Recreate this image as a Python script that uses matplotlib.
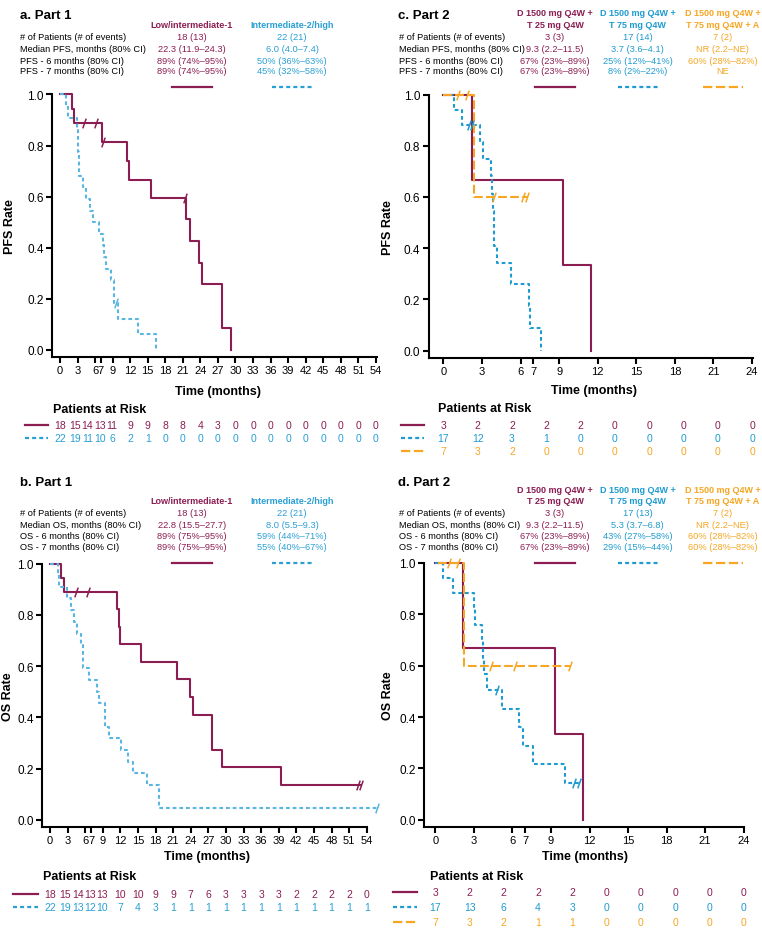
import numpy as np
import matplotlib
matplotlib.use("Agg")
import matplotlib.pyplot as plt
from matplotlib.lines import Line2D
from matplotlib.path import Path
from matplotlib.ticker import FormatStrFormatter
from matplotlib.transforms import blended_transform_factory

W, H = 762, 929
MAROON = "#8b1d52"
BLUE1_TXT, BLUE1_LN = "#2a9fd4", "#5ab5e0"
BLUE2 = "#1e9bd0"
ORANGE = "#f6a623"

plt.rcParams.update({
    "font.family": ["Liberation Sans", "DejaVu Sans"],
    "axes.spines.top": False, "axes.spines.right": False,
    "axes.linewidth": 1.5, "xtick.major.width": 1.5, "ytick.major.width": 1.5,
    "xtick.major.size": 4, "ytick.major.size": 4,
    "xtick.labelsize": 8, "ytick.labelsize": 8.5,
})

# ---------------- data ----------------
# a. PFS part 1
pfs1_low_t = [0, 2.0, 2.4, 7.1, 11.45, 11.85, 15.55, 21.5, 22.3, 23.8, 24.3, 27.7, 29.3]
pfs1_low_s = [1.0, 0.944, 0.889, 0.815, 0.741, 0.667, 0.593, 0.511, 0.426, 0.341, 0.256, 0.085, 0.0]
pfs1_low_cx = [4.1, 6.1, 7.3, 21.4]
pfs1_low_cy = [0.889, 0.889, 0.815, 0.593]
pfs1_high_t = [0, 1.1, 1.4, 2.9, 3.0, 3.1, 3.2, 3.3, 4.0, 4.4, 5.1, 5.6, 6.7, 7.4, 7.6, 7.8,
               8.8, 9.2, 10.0, 13.3, 16.4]
pfs1_high_s = [1.0, 0.955, 0.909, 0.864, 0.818, 0.773, 0.727, 0.682, 0.636, 0.591, 0.545, 0.5,
               0.455, 0.409, 0.364, 0.318, 0.273, 0.182, 0.121, 0.061, 0.0]
pfs1_high_cx = [9.5]
pfs1_high_cy = [0.182]

# c. PFS part 2
pfs2_t25_t = [0, 2.23, 9.3, 11.5]
pfs2_t25_s = [1.0, 0.667, 0.333, 0.0]
pfs2_t75_t = [0, 0.8, 1.45, 2.85, 3.1, 3.7, 3.8, 3.85, 3.9, 3.95, 4.15, 5.27, 6.64, 6.74, 7.6]
pfs2_t75_s = [1.0, 0.941, 0.882, 0.816, 0.75, 0.68, 0.61, 0.545, 0.476, 0.408, 0.343, 0.261,
              0.174, 0.087, 0.0]
pfs2_t75_cx = [2.0, 2.2]
pfs2_t75_cy = [0.882, 0.882]
pfs2_t75a_t = [0, 2.35, 6.6]
pfs2_t75a_s = [1.0, 0.6, 0.6]
pfs2_t75a_cx = [1.1, 1.85, 3.97, 6.2, 6.5]
pfs2_t75a_cy = [1.0, 1.0, 0.6, 0.6, 0.6]

# b. OS part 1
os1_low_t = [0, 1.9, 2.4, 11.4, 11.8, 11.9, 15.6, 21.6, 23.8, 24.3, 27.7, 29.3, 39.4, 53.0]
os1_low_s = [1.0, 0.944, 0.889, 0.822, 0.753, 0.685, 0.617, 0.548, 0.479, 0.411, 0.274, 0.205,
             0.137, 0.137]
os1_low_cx = [4.4, 6.4, 52.6, 53.1]
os1_low_cy = [0.889, 0.889, 0.137, 0.137]
os1_high_t = [0, 1.4, 1.6, 2.85, 3.5, 4.1, 4.55, 5.3, 5.7, 6.7, 8.0, 8.4, 9.3, 10.1, 12.1,
              13.3, 14.1, 16.5, 18.6, 55.7]
os1_high_s = [1.0, 0.955, 0.909, 0.864, 0.818, 0.773, 0.727, 0.682, 0.591, 0.545, 0.5, 0.455,
              0.364, 0.318, 0.273, 0.227, 0.182, 0.136, 0.045, 0.045]
os1_high_cx = [55.7]
os1_high_cy = [0.045]

# d. OS part 2
os2_t25_t = [0, 2.18, 9.3, 11.5]
os2_t25_s = [1.0, 0.667, 0.333, 0.0]
os2_t75_t = [0, 0.6, 1.36, 3.0, 3.1, 3.64, 3.7, 3.8, 4.03, 5.17, 6.55, 6.8, 7.64, 10.1, 11.2]
os2_t75_s = [1.0, 0.941, 0.882, 0.82, 0.758, 0.694, 0.631, 0.568, 0.505, 0.433, 0.361, 0.289,
             0.217, 0.145, 0.145]
os2_t75_cx = [4.8, 10.8, 11.15]
os2_t75_cy = [0.505, 0.145, 0.145]
os2_t75a_t = [0.2, 2.26, 10.5]
os2_t75a_s = [1.0, 0.6, 0.6]
os2_t75a_cx = [1.1, 1.75, 4.3, 6.2, 10.5]
os2_t75a_cy = [1.0, 1.0, 0.6, 0.6, 0.6]

# tables
part1_groups = ["Low/intermediate-1", "Intermediate-2/high"]
part2_groups = [["D 1500 mg Q4W +", "T 25 mg Q4W"], ["D 1500 mg Q4W +", "T 75 mg Q4W"],
                ["D 1500 mg Q4W +", "T 75 mg Q4W + A"]]
pfs_rows = ["# of Patients (# of events)", "Median PFS, months (80% CI)",
            "PFS - 6 months (80% CI)", "PFS - 7 months (80% CI)"]
os_rows = ["# of Patients (# of events)", "Median OS, months (80% CI)",
           "OS - 6 months (80% CI)", "OS - 7 months (80% CI)"]
pfs1_vals = [["18 (13)", "22.3 (11.9–24.3)", "89% (74%–95%)", "89% (74%–95%)"],
             ["22 (21)", "6.0 (4.0–7.4)", "50% (36%–63%)", "45% (32%–58%)"]]
pfs2_vals = [["3 (3)", "9.3 (2.2–11.5)", "67% (23%–89%)", "67% (23%–89%)"],
             ["17 (14)", "3.7 (3.6–4.1)", "25% (12%–41%)", "8% (2%–22%)"],
             ["7 (2)", "NR (2.2–NE)", "60% (28%–82%)", "NE"]]
os1_vals = [["18 (13)", "22.8 (15.5–27.7)", "89% (75%–95%)", "89% (75%–95%)"],
            ["22 (21)", "8.0 (5.5–9.3)", "59% (44%–71%)", "55% (40%–67%)"]]
os2_vals = [["3 (3)", "9.3 (2.2–11.5)", "67% (23%–89%)", "67% (23%–89%)"],
            ["17 (13)", "5.3 (3.7–6.8)", "43% (27%–58%)", "29% (15%–44%)"],
            ["7 (2)", "NR (2.2–NE)", "60% (28%–82%)", "60% (28%–82%)"]]

# patients at risk
ticks1 = [0, 3, 6, 7, 9] + list(range(12, 55, 3))
ticks2 = [0, 3, 6, 7, 9, 12, 15, 18, 21, 24]
risk1_x = [0, 2.5, 4.7, 6.9, 8.9] + list(range(12, 55, 3))
risk2_x = list(np.linspace(0, 24, 10))
pfs1_risk = [[18, 15, 14, 13, 11, 9, 9, 8, 8, 4, 3, 0, 0, 0, 0, 0, 0, 0, 0, 0],
             [22, 19, 11, 10, 6, 2, 1, 0, 0, 0, 0, 0, 0, 0, 0, 0, 0, 0, 0, 0]]
pfs2_risk = [[3, 2, 2, 2, 2, 0, 0, 0, 0, 0],
             [17, 12, 3, 1, 0, 0, 0, 0, 0, 0],
             [7, 3, 2, 0, 0, 0, 0, 0, 0, 0]]
os1_risk = [[18, 15, 14, 13, 13, 10, 10, 9, 9, 7, 6, 3, 3, 3, 3, 2, 2, 2, 2, 0],
            [22, 19, 13, 12, 10, 7, 4, 3, 1, 1, 1, 1, 1, 1, 1, 1, 1, 1, 1, 1]]
os2_risk = [[3, 2, 2, 2, 2, 0, 0, 0, 0, 0],
            [17, 13, 6, 4, 3, 0, 0, 0, 0, 0],
            [7, 3, 2, 1, 1, 0, 0, 0, 0, 0]]

# ---------------- drawing ----------------
fig = plt.figure(figsize=(W / 100, H / 100), dpi=100)
CENSOR = Path([(-0.35, -1), (0.35, 1)], [Path.MOVETO, Path.LINETO])

DASH1 = (0, (1.8, 1.4))
DASH_O = (0, (4.2, 1.6))


def fx(x):
    return x / W


def fy(y):
    return 1 - y / H


def ftext(x, y, s, **kw):
    kw.setdefault("va", "center")
    fig.text(fx(x), fy(y), s, **kw)


def fline(x0, x1, y, color, ls):
    fig.add_artist(Line2D([fx(x0), fx(x1)], [fy(y), fy(y)], color=color, lw=1.6, ls=ls))


def make_axes(l, t, r, b, xlim, xticks, ylabel, ylab_x):
    ax = fig.add_axes([fx(l), fy(b), fx(r - l), (b - t) / H])
    ax.set_xlim(*xlim)
    ax.set_ylim(-0.028, 1.0)
    ax.set_xticks(xticks)
    ax.set_yticks([0, 0.2, 0.4, 0.6, 0.8, 1.0])
    ax.yaxis.set_major_formatter(FormatStrFormatter("%.1f"))
    ax.tick_params(pad=2)
    ax.patch.set_alpha(0)
    ftext(ylab_x, (t + b) / 2, ylabel, rotation=90, ha="center", fontsize=9, fontweight="bold")
    return ax


def km(ax, t, s, cx, cy, color, ls, lw=1.5):
    ax.step(t, s, where="post", color=color, lw=lw, ls=ls, clip_on=False, zorder=3)
    if cx:
        ax.plot(cx, cy, ls="none", marker=CENSOR, ms=7, mew=1.1, color=color,
                clip_on=False, zorder=4)


def table(x_lab, rows, row_ys, col_x, vals, colors, headers, head_ys, leg_y, leg_ls):
    for r, y in zip(rows, row_ys):
        ftext(x_lab, y, r, fontsize=6.7)
    for cx, col, c, hd, ls in zip(col_x, vals, colors, headers, leg_ls):
        for line, hy in zip(hd, head_ys):
            ftext(cx, hy, line, ha="center", fontsize=6.5, fontweight="bold", color=c)
        for v, y in zip(col, row_ys):
            ftext(cx, y, v, ha="center", fontsize=6.7, color=c)
        fline(cx - 20, cx + 20, leg_y, c, ls)


def risk(ax, xs, counts, colors, lss, head_x, head_y, row_ys, leg_x):
    tr = blended_transform_factory(ax.transData, fig.transFigure)
    ftext(head_x, head_y, "Patients at Risk", fontsize=9, fontweight="bold")
    for cnt, c, ls, y in zip(counts, colors, lss, row_ys):
        fline(leg_x[0], leg_x[1], y, c, ls)
        for x, n in zip(xs, cnt):
            ax.text(x, fy(y), str(n), transform=tr, ha="center", va="center",
                    fontsize=7.5, color=c)


# ---- a. PFS part 1
ax = make_axes(52, 95.5, 377, 358, (-1.37, 54.2), ticks1, "PFS Rate", 10)
km(ax, pfs1_low_t, pfs1_low_s, pfs1_low_cx, pfs1_low_cy, MAROON, "-")
km(ax, pfs1_high_t, pfs1_high_s, pfs1_high_cx, pfs1_high_cy, BLUE1_LN, DASH1)
ftext(20, 16, "a. Part 1", fontsize=9.5, fontweight="bold")
table(20, pfs_rows, [37, 49, 61, 72], [192, 292], pfs1_vals, [MAROON, BLUE1_TXT],
      [[g] for g in part1_groups], [26], 88, ["-", DASH1])
ftext(218, 392, "Time (months)", ha="center", fontsize=9, fontweight="bold")
risk(ax, risk1_x, pfs1_risk, [MAROON, BLUE1_TXT], ["-", DASH1], 53, 410, [426, 439.3], (25, 48))

# ---- c. PFS part 2
ax = make_axes(428.7, 95.6, 752.7, 358.7, (-1.14, 24.05), ticks2, "PFS Rate", 388)
km(ax, pfs2_t25_t, pfs2_t25_s, [], [], MAROON, "-")
km(ax, pfs2_t75_t, pfs2_t75_s, pfs2_t75_cx, pfs2_t75_cy, BLUE2, DASH1)
km(ax, pfs2_t75a_t, pfs2_t75a_s, pfs2_t75a_cx, pfs2_t75a_cy, ORANGE, DASH_O)
ftext(398, 16, "c. Part 2", fontsize=9.5, fontweight="bold")
table(399, pfs_rows, [37, 49, 61, 72], [555, 637.7, 722.7], pfs2_vals,
      [MAROON, BLUE2, ORANGE], part2_groups, [14, 25], 88, ["-", DASH1, DASH_O])
ftext(594, 391, "Time (months)", ha="center", fontsize=9, fontweight="bold")
risk(ax, risk2_x, pfs2_risk, [MAROON, BLUE2, ORANGE], ["-", DASH1, DASH_O], 438, 409,
     [426, 439.3, 452.3], (401, 424))

# ---- b. OS part 1
ax = make_axes(42.3, 564.6, 367, 828, (-1.31, 54.05), ticks1, "OS Rate", 8)
km(ax, os1_low_t, os1_low_s, os1_low_cx, os1_low_cy, MAROON, "-")
km(ax, os1_high_t, os1_high_s, os1_high_cx, os1_high_cy, BLUE1_LN, DASH1)
ftext(20, 482.7, "b. Part 1", fontsize=9.5, fontweight="bold")
table(20, os_rows, [513.3, 525, 536.7, 548], [192, 292], os1_vals, [MAROON, BLUE1_TXT],
      [[g] for g in part1_groups], [501.7], 564, ["-", DASH1])
ftext(207, 857, "Time (months)", ha="center", fontsize=9, fontweight="bold")
risk(ax, risk1_x, os1_risk, [MAROON, BLUE1_TXT], ["-", DASH1], 43, 877, [895, 908.3], (13, 38))

# ---- d. OS part 2
ax = make_axes(424.3, 563.8, 744.3, 828, (-0.86, 24.05), ticks2, "OS Rate", 388)
km(ax, os2_t25_t, os2_t25_s, [], [], MAROON, "-")
km(ax, os2_t75_t, os2_t75_s, os2_t75_cx, os2_t75_cy, BLUE2, DASH1)
km(ax, os2_t75a_t, os2_t75a_s, os2_t75a_cx, os2_t75a_cy, ORANGE, DASH_O)
ftext(398, 482.7, "d. Part 2", fontsize=9.5, fontweight="bold")
table(399, os_rows, [513.3, 525, 536.7, 548], [555, 637.7, 722.7], os2_vals,
      [MAROON, BLUE2, ORANGE], part2_groups, [490.7, 501.7], 564, ["-", DASH1, DASH_O])
ftext(585, 857, "Time (months)", ha="center", fontsize=9, fontweight="bold")
risk(ax, risk2_x, os2_risk, [MAROON, BLUE2, ORANGE], ["-", DASH1, DASH_O], 430, 877,
     [892.7, 908.3, 923.3], (393, 417))

fig.savefig("out.png", dpi=100)
